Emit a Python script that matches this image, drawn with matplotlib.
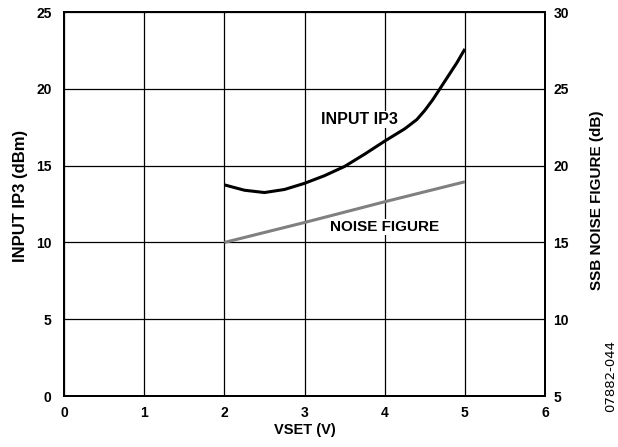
import matplotlib.pyplot as plt

plt.rcParams['font.family'] = ['Liberation Sans', 'DejaVu Sans']
plt.rcParams['font.weight'] = 'bold'

# VSET sweep readings
vset_ip3 = [2.0, 2.25, 2.5, 2.75, 3.0, 3.25, 3.5, 3.75, 4.0, 4.25, 4.4, 4.5, 4.6, 4.75, 4.9, 5.0]
input_ip3 = [13.75, 13.4, 13.25, 13.45, 13.85, 14.35, 14.95, 15.75, 16.6, 17.4, 18.0, 18.6, 19.3, 20.5, 21.7, 22.6]

vset_nf = [2.0, 3.0, 4.0, 5.0]
noise_figure = [15.0, 16.3, 17.65, 18.95]

xticks = [0, 1, 2, 3, 4, 5, 6]
left_ticks = [0, 5, 10, 15, 20, 25]
right_ticks = [5, 10, 15, 20, 25, 30]

fig = plt.figure(figsize=(6.18, 4.47), dpi=100)
ax = fig.add_axes([0.1036, 0.114, 0.7784, 0.859])
ax2 = ax.twinx()

ax.plot(vset_ip3, input_ip3, color='black', lw=2.2, solid_capstyle='butt')
ax2.plot(vset_nf, noise_figure, color='#808080', lw=2.2, solid_capstyle='butt')

ax.set_xlim(0, 6)
ax.set_ylim(0, 25)
ax2.set_ylim(5, 30)
ax.set_xticks(xticks)
ax.set_yticks(left_ticks)
ax2.set_yticks(right_ticks)

ax.grid(True, color='black', lw=0.9)
ax.set_axisbelow(True)
for a in (ax, ax2):
    for s in a.spines.values():
        s.set_linewidth(1.4)
ax.tick_params(axis='both', length=0, labelsize=10)
ax.tick_params(axis='y', pad=9)
ax.tick_params(axis='x', pad=7)
ax2.tick_params(axis='y', length=0, labelsize=10, pad=6)

ax.set_xlabel('VSET (V)', fontsize=10.5, fontweight='bold', labelpad=2)
ax.set_ylabel('INPUT IP3 (dBm)', fontsize=12, fontweight='bold')
ax2.set_ylabel('SSB NOISE FIGURE (dB)', fontsize=11, fontweight='bold')
ax.yaxis.set_label_coords(-0.074, 0.521)
ax2.yaxis.set_label_coords(1.094, 0.51)

box = dict(facecolor='white', edgecolor='none', pad=0.5)
ax.text(3.21, 18.0, 'INPUT IP3', fontsize=11.5, fontweight='bold',
        ha='left', va='center', bbox=box)
ax.text(3.32, 11.0, 'NOISE FIGURE', fontsize=11, fontweight='bold',
        ha='left', va='center', bbox=box)

fig.text(0.999, 0.159, '07882-044', rotation=90, fontsize=9.5, fontweight='normal',
         family='DejaVu Sans', ha='right', va='center')

fig.savefig('out.png', dpi=100)
